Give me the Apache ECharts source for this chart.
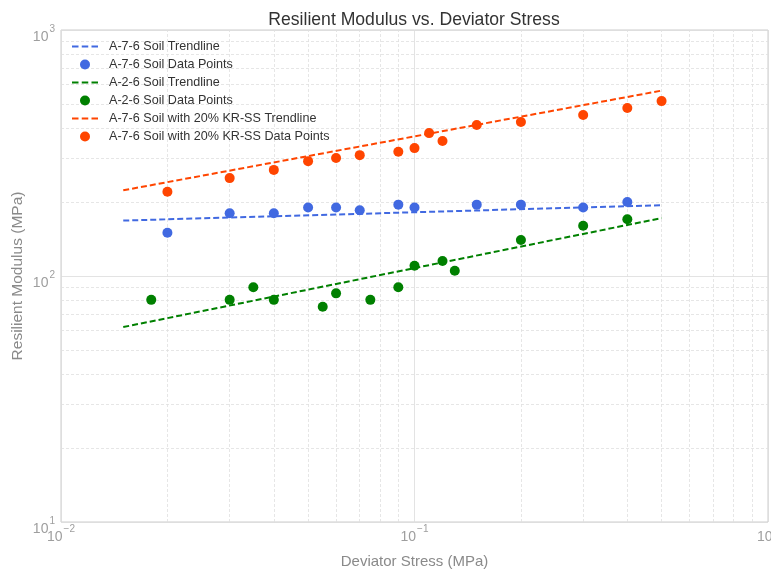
<!DOCTYPE html>
<html>
<head>
<meta charset="utf-8">
<script src="https://cdn.jsdelivr.net/npm/echarts@6/dist/echarts.min.js"></script>
<style>
  html, body { margin: 0; padding: 0; background: #fff; }
  #chart { width: 771px; height: 570px; }
</style>
</head>
<body>
<div id="chart"></div>
<script>
// Deviator stress (MPa) and resilient modulus (MPa) for each soil
const a76Stress = [0.02, 0.03, 0.04, 0.05, 0.06, 0.07, 0.09, 0.1, 0.15, 0.2, 0.3, 0.4];
const a76Modulus = [150, 180, 180, 190, 190, 185, 195, 190, 195, 195, 190, 200];

const a26Stress = [0.018, 0.03, 0.035, 0.04, 0.055, 0.06, 0.075, 0.09, 0.1, 0.12, 0.13, 0.2, 0.3, 0.4];
const a26Modulus = [80, 80, 90, 80, 75, 85, 80, 90, 110, 115, 105, 140, 160, 170];

const krStress = [0.02, 0.03, 0.04, 0.05, 0.06, 0.07, 0.09, 0.1, 0.11, 0.12, 0.15, 0.2, 0.3, 0.4, 0.5];
const krModulus = [220, 250, 270, 293, 302, 310, 320, 331, 381, 354, 411, 423, 451, 482, 514];

// Power-law trendlines (straight on log-log axes), end points
const trendStress = [0.015, 0.5];
const a76Trend = [168, 194];
const a26Trend = [62, 172];
const krTrend = [223, 567];

// Minor grid positions
const xMinor = [0.02, 0.03, 0.04, 0.05, 0.06, 0.07, 0.08, 0.09, 0.2, 0.3, 0.4, 0.5, 0.6, 0.7, 0.8, 0.9];
const yMinor = [20, 30, 40, 50, 60, 70, 80, 90, 200, 300, 400, 500, 600, 700, 800, 900];

const names = [
  'A-7-6 Soil Trendline',
  'A-7-6 Soil Data Points',
  'A-2-6 Soil Trendline',
  'A-2-6 Soil Data Points',
  'A-7-6 Soil with 20% KR-SS Trendline',
  'A-7-6 Soil with 20% KR-SS Data Points'
];

const BLUE = '#4169E1', GREEN = '#008000', ORANGE = '#FF4500';
const FONT = 'Liberation Sans, Arial, sans-serif';
const majorGrid = { color: '#dcdcdc', width: 0.8, type: 'solid' };
const minorGrid = { color: '#e0e0e0', width: 0.8, type: [3, 2] };

// Three short dashes, used as the legend key for trendlines
const DASH_ICON = 'path://M0,0h6.5v2h-6.5z M9.75,0h6.5v2h-6.5z M19.5,0h6.5v2h-6.5z';

const zip = (xs, ys) => xs.map((x, i) => [x, ys[i]]);
const powLabel = v => {
  const e = Math.round(Math.log10(v));
  return '{b|10}{s|' + (e < 0 ? '\u2212' + (-e) : e) + '}';
};
const tickRich = {
  b: { fontSize: 14, color: '#9e9e9e', fontFamily: FONT, lineHeight: 20, verticalAlign: 'bottom' },
  s: { fontSize: 10, color: '#9e9e9e', fontFamily: FONT, lineHeight: 20, verticalAlign: 'top', padding: [0, 0, 0, 1] }
};

const trend = (name, data, color) => ({
  name, type: 'line', data, symbol: 'none', z: 3,
  lineStyle: { color, width: 2, type: [6, 3] },
  itemStyle: { color }
});
const points = (name, data, color) => ({
  name, type: 'scatter', data, symbolSize: 10, z: 4,
  itemStyle: { color, opacity: 1 }
});

const chart = echarts.init(document.getElementById('chart'), null, { renderer: 'canvas' });
chart.setOption({
  animation: false,
  backgroundColor: '#fff',
  title: {
    text: 'Resilient Modulus vs. Deviator Stress',
    left: 409, top: 6, textAlign: 'center',
    textStyle: { fontSize: 17.6, fontWeight: 'normal', color: '#333', fontFamily: FONT }
  },
  legend: {
    data: names.map((n, i) => ({ name: n, icon: i % 2 ? 'circle' : DASH_ICON })),
    orient: 'vertical', left: 67, top: 35,
    itemWidth: 26, itemHeight: 10, itemGap: 5,
    lineStyle: { width: 0 },
    textStyle: { fontSize: 12.6, color: '#333', fontFamily: FONT, padding: [0, 0, 0, 6] }
  },
  grid: {
    left: 61, right: 3, top: 30, bottom: 48,
    outerBoundsMode: 'none',
    show: true, borderColor: '#cccccc', borderWidth: 1
  },
  xAxis: {
    type: 'log', logBase: 10, min: 0.01, max: 1,
    name: 'Deviator Stress (MPa)', nameLocation: 'middle', nameGap: 32,
    nameMoveOverlap: false,
    nameTextStyle: { fontSize: 15, color: '#8a8a8a', fontFamily: FONT },
    axisLine: { show: false }, axisTick: { show: false },
    axisLabel: { formatter: powLabel, rich: tickRich, margin: 2 },
    splitLine: { show: true, lineStyle: majorGrid }
  },
  yAxis: {
    type: 'log', logBase: 10, min: 10, max: 1000,
    name: 'Resilient Modulus (MPa)', nameLocation: 'middle', nameGap: 35,
    nameMoveOverlap: false,
    nameTextStyle: { fontSize: 15.5, color: '#8a8a8a', fontFamily: FONT },
    axisLine: { show: false }, axisTick: { show: false },
    axisLabel: { formatter: powLabel, rich: tickRich, margin: 6, padding: [9, 0, 0, 0] },
    splitLine: { show: true, lineStyle: majorGrid }
  },
  series: [
    {
      name: 'minor-grid', type: 'line', data: [], z: 1, silent: true,
      markLine: {
        silent: true, z: 1, symbol: ['none', 'none'], label: { show: false },
        lineStyle: minorGrid, animation: false,
        emphasis: { disabled: true },
        data: xMinor.map(v => ({ xAxis: v })).concat(yMinor.map(v => ({ yAxis: v })))
      }
    },
    trend(names[0], zip(trendStress, a76Trend), BLUE),
    points(names[1], zip(a76Stress, a76Modulus), BLUE),
    trend(names[2], zip(trendStress, a26Trend), GREEN),
    points(names[3], zip(a26Stress, a26Modulus), GREEN),
    trend(names[4], zip(trendStress, krTrend), ORANGE),
    points(names[5], zip(krStress, krModulus), ORANGE)
  ]
});
</script>
</body>
</html>
